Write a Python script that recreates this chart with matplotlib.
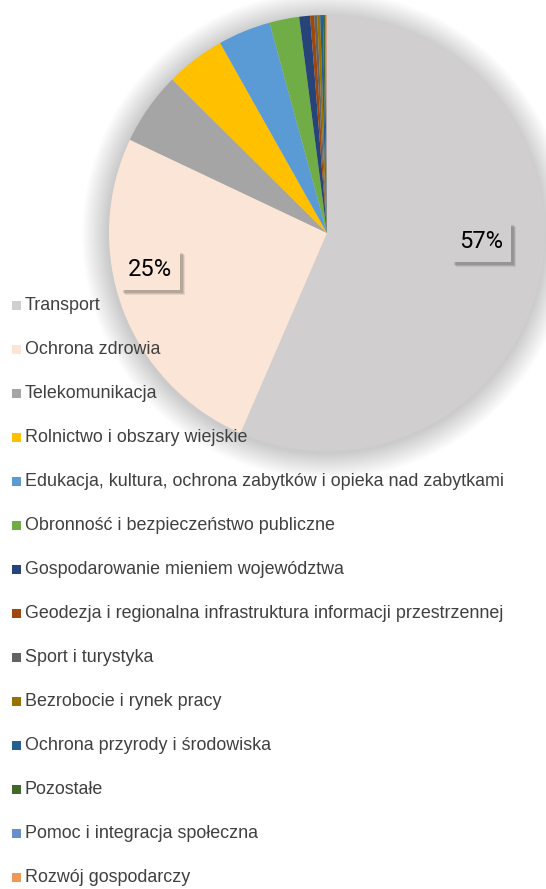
# coding: utf-8
import matplotlib
matplotlib.use("Agg")
import matplotlib.pyplot as plt
from matplotlib.patches import Rectangle, Circle
import matplotlib.transforms as mtransforms

# dane: udzial dzialow w wydatkach (%)
kategorie = [
    "Transport",
    "Ochrona zdrowia",
    "Telekomunikacja",
    "Rolnictwo i obszary wiejskie",
    "Edukacja, kultura, ochrona zabytków i opieka nad zabytkami",
    "Obronność i bezpieczeństwo publiczne",
    "Gospodarowanie mieniem województwa",
    "Geodezja i regionalna infrastruktura informacji przestrzennej",
    "Sport i turystyka",
    "Bezrobocie i rynek pracy",
    "Ochrona przyrody i środowiska",
    "Pozostałe",
    "Pomoc i integracja społeczna",
    "Rozwój gospodarczy",
]
udzialy = [56.4, 25.5, 5.4, 4.4, 3.9, 2.2, 0.8, 0.3, 0.22, 0.22, 0.2, 0.15, 0.1, 0.05]
kolory = ["#D0CECE", "#FBE5D6", "#A5A5A5", "#FFC000", "#5B9BD5", "#70AD47",
          "#264478", "#9E480E", "#636363", "#997300", "#255E91", "#43682B",
          "#698ED0", "#F1975A"]
etykiety = ["57%", "25%"]

W, H = 546, 889
fig = plt.figure(figsize=(W / 100, H / 100), dpi=100)
ax = fig.add_axes([0, 0, 1, 1])

cx, cy, r = 327, H - 233, 218

# miekki cien wokol kola
for k in range(26, 0, -1):
    ax.add_patch(Circle((cx - 1, cy - 2), r + k, color="#000000",
                        alpha=0.0065, lw=0, zorder=0))

wedges, _ = ax.pie(udzialy, colors=kolory, startangle=90, counterclock=False,
                   center=(cx, cy), radius=r, wedgeprops=dict(linewidth=0))
for w in wedges:
    w.set_zorder(1)

ax.set_aspect("auto")
ax.set_xlim(0, W)
ax.set_ylim(0, H)
ax.axis("off")

# etykiety procentowe z cieniem
poz = [(481, H - 242), (150, H - 270)]
for (x, y), txt, col in zip(poz, etykiety, kolory):
    for d, a in [(5, 0.08), (4, 0.1), (3, 0.12)]:
        sh = mtransforms.offset_copy(ax.transData, fig=fig, x=d, y=-d, units="dots")
        ax.text(x, y, txt, transform=sh, fontsize=17, family="Roboto", color=(0, 0, 0, 0),
                ha="center", va="center", zorder=3,
                bbox=dict(boxstyle="square,pad=0.35", fc="#000000", ec="none", alpha=a))
    ax.text(x, y, txt, fontsize=17, family="Roboto", color="#000000",
            ha="center", va="center", zorder=4,
            bbox=dict(boxstyle="square,pad=0.35", fc=col, ec="none"))

# legenda
y0, dy = 305, 44.04
for i, (lab, col) in enumerate(zip(kategorie, kolory)):
    y = H - (y0 + i * dy)
    ax.add_patch(Rectangle((12, y - 4.5), 9, 9, color=col, lw=0, zorder=5))
    ax.text(25, y, lab, fontsize=12.85, family="Liberation Sans", color="#404040",
            va="center", ha="left", zorder=5)

# tytul (obciety u gory)
fig.text(0.0, 1.0 + 3.5 / H, "Wydatki majątkowe (wg działów) w budżecie województwa",
         fontsize=15, fontweight="bold", family="Liberation Sans", color="black",
         va="baseline", ha="left")

fig.savefig("out.png", dpi=100)
